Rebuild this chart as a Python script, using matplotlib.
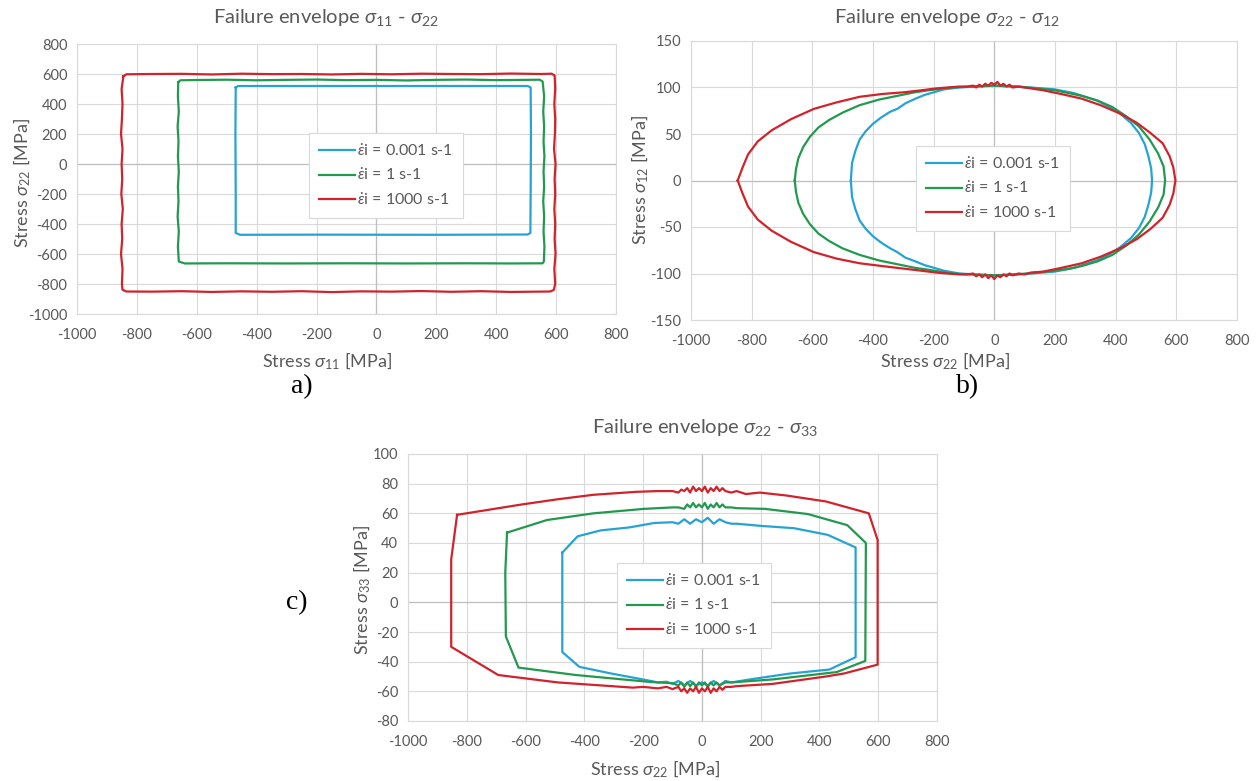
import matplotlib
matplotlib.use("Agg")
import matplotlib.pyplot as plt
import numpy as np

plt.rcParams['font.family'] = ['Lato', 'DejaVu Sans']
plt.rcParams['mathtext.fontset'] = 'custom'
plt.rcParams['mathtext.rm'] = 'Lato'
plt.rcParams['mathtext.it'] = 'Lato:italic'
plt.rcParams['axes.unicode_minus'] = False

rates = ["0.001", "1", "1000"]
labels = [r"$\dot{\varepsilon}$i = " + r + " s-1" for r in rates]
colors = ['#27a3d3', '#23994f', '#d0232b']

# a) sigma11 - sigma22 envelopes (MPa)
a_blue = [(-470, 510), (-462, 520), (-300, 520), (0, 520), (300, 520), (505, 520), (515, 510),
          (516, 200), (515, -200), (514, -460), (505, -470), (200, -472), (-200, -471),
          (-455, -472), (-470, -460), (-470, -200), (-471, 200), (-470, 510)]
a_green = [(-662, 545), (-655, 558), (-600, 560), (-500, 562), (-400, 558), (-300, 561), (-200, 563),
           (-100, 559), (0, 561), (100, 557), (200, 561), (300, 563), (400, 559), (500, 561),
           (545, 562), (555, 550), (560, 450), (557, 350), (560, 250), (558, 150), (561, 50),
           (558, -50), (560, -150), (557, -250), (560, -350), (558, -450), (561, -550),
           (559, -650), (555, -662), (450, -663), (300, -662), (100, -663), (-100, -662),
           (-300, -663), (-500, -662), (-640, -663), (-660, -650), (-663, -550), (-660, -450),
           (-664, -350), (-661, -250), (-663, -150), (-660, -50), (-663, 50), (-661, 150),
           (-664, 250), (-660, 350), (-663, 450), (-662, 545)]
a_red = [(-845, 585), (-835, 598), (-750, 600), (-650, 601), (-550, 597), (-450, 602), (-350, 599),
         (-250, 600), (-150, 597), (-50, 601), (50, 598), (150, 602), (250, 600), (350, 599),
         (450, 603), (550, 600), (585, 602), (595, 590), (597, 500), (594, 400), (597, 300),
         (596, 200), (593, 100), (598, 0), (595, -100), (597, -200), (594, -300), (597, -400),
         (595, -500), (598, -600), (594, -700), (597, -800), (592, -840), (580, -850),
         (450, -853), (350, -848), (250, -852), (150, -847), (50, -851), (-50, -849),
         (-150, -854), (-250, -848), (-350, -852), (-450, -849), (-550, -853), (-650, -848),
         (-750, -851), (-835, -850), (-848, -838), (-850, -800), (-848, -700), (-853, -600),
         (-849, -500), (-851, -400), (-847, -300), (-852, -200), (-849, -100), (-851, 0),
         (-848, 100), (-853, 200), (-850, 300), (-848, 400), (-851, 500), (-845, 585)]

# b) sigma22 - sigma12 envelopes (MPa)
b_blue = [(-473, 0), (-471, 10), (-469, 19), (-458, 32), (-444, 44), (-424, 53), (-400, 61),
          (-372, 68), (-343, 74), (-320, 77), (-293, 83), (-260, 88), (-230, 92), (-198, 95),
          (-166, 98), (-116, 100), (-60, 101), (0, 102), (60, 101), (120, 100), (199, 98),
          (262, 94), (300, 90), (338, 86), (380, 79), (414, 72), (450, 62), (477, 51),
          (496, 39), (508, 26), (517, 13), (520, 0), (517, -13), (508, -26), (496, -39),
          (477, -51), (450, -62), (414, -72), (380, -79), (338, -86), (300, -90), (262, -94),
          (199, -98), (120, -100), (60, -101), (0, -102), (-60, -101), (-116, -100),
          (-166, -97), (-198, -94), (-230, -91), (-260, -87), (-293, -83), (-320, -77),
          (-343, -73), (-372, -67), (-400, -60), (-424, -52), (-444, -43), (-458, -31),
          (-469, -18), (-471, -9), (-473, 0)]
b_green = [(-658, 0), (-654, 12), (-646, 24), (-630, 36), (-608, 47), (-580, 57), (-545, 65),
           (-500, 73), (-444, 81), (-380, 87), (-305, 92), (-260, 95), (-217, 97), (-141, 100),
           (-80, 101), (0, 102), (80, 101), (140, 99), (199, 97), (245, 94), (288, 91),
           (340, 86), (389, 79), (435, 69), (477, 58), (512, 44), (540, 29), (558, 15),
           (563, 0), (558, -15), (540, -29), (512, -44), (477, -58), (435, -70), (389, -80),
           (340, -87), (288, -92), (245, -95), (199, -97), (140, -99), (80, -101), (0, -102),
           (-80, -101), (-141, -100), (-217, -96), (-260, -94), (-305, -91), (-380, -86),
           (-444, -80), (-500, -73), (-545, -65), (-580, -57), (-608, -47), (-630, -36),
           (-646, -24), (-654, -12), (-658, 0)]
b_red = [(-846, 0), (-830, 14), (-812, 28), (-780, 42), (-734, 54), (-670, 66), (-595, 77),
         (-520, 84), (-444, 90), (-370, 93), (-293, 95), (-240, 97), (-192, 99), (-116, 101),
         (-90, 101), (-70, 102), (-60, 100), (-50, 103), (-40, 101), (-30, 104), (-20, 102),
         (-10, 105), (0, 103), (10, 106), (20, 102), (30, 104), (40, 101), (50, 103),
         (60, 100), (80, 101), (100, 100), (120, 99), (161, 97), (220, 93), (288, 88),
         (350, 81), (414, 72), (470, 62), (515, 51), (555, 40), (578, 26), (590, 14),
         (597, 0), (590, -14), (578, -26), (555, -40), (515, -52), (470, -63), (414, -73),
         (350, -82), (288, -89), (220, -94), (161, -98), (120, -99), (100, -101), (80, -100),
         (60, -102), (50, -100), (40, -103), (30, -101), (20, -104), (10, -102), (0, -106),
         (-10, -102), (-20, -105), (-30, -101), (-40, -104), (-50, -101), (-60, -103),
         (-70, -100), (-90, -101), (-116, -101), (-192, -99), (-240, -97), (-293, -95),
         (-370, -92), (-444, -89), (-520, -84), (-595, -77), (-670, -66), (-734, -54),
         (-780, -42), (-812, -28), (-830, -14), (-846, 0)]

# c) sigma22 - sigma33 envelopes (MPa)
c_blue = [(-475, 33.5), (-475, -33.5), (-417, -43.5), (-308, -48), (-174, -53), (-150, -54),
          (-120, -53.5), (-100, -55), (-80, -53), (-60, -56), (-40, -53), (-20, -56), (0, -54),
          (20, -56), (40, -53), (60, -56), (80, -53), (100, -54), (179, -51.5), (300, -48),
          (434, -45.3), (523, -37), (523, 37), (428, 45.5), (313, 50), (203, 51.5), (118, 53),
          (100, 53), (80, 54), (60, 56), (40, 53), (20, 57), (0, 54), (-20, 56), (-40, 53),
          (-60, 56), (-80, 53), (-100, 54), (-162, 53.5), (-247, 50.5), (-344, 48.5),
          (-423, 44.5), (-475, 33.5)]
c_green = [(-663, 47), (-669, 20), (-667, -23), (-624, -44), (-429, -49), (-186, -53.5),
           (-150, -54), (-100, -54.5), (-80, -56), (-70, -54), (-60, -57), (-50, -54),
           (-40, -56.5), (-30, -54), (-20, -57), (-10, -54), (0, -56), (10, -54), (20, -57),
           (30, -54), (40, -56), (50, -54), (60, -56), (80, -54), (100, -54), (240, -52),
           (459, -47), (556, -39.5), (558, 40), (495, 52), (361, 59.5), (215, 63), (118, 63.5),
           (100, 64), (80, 64), (70, 66), (60, 64), (50, 67), (40, 64), (30, 66), (20, 63),
           (10, 67), (0, 64), (-10, 66), (-20, 64), (-30, 67), (-40, 64), (-50, 66), (-60, 63),
           (-80, 64), (-100, 64), (-198, 63), (-369, 60), (-527, 55.5), (-663, 47)]
c_red = [(-833, 59), (-853, 29), (-853, -30), (-693, -49), (-490, -54), (-235, -57.5),
         (-200, -57), (-150, -58), (-120, -57), (-100, -58.5), (-80, -57), (-70, -60),
         (-60, -58), (-50, -61), (-40, -58), (-30, -60), (-20, -57), (-10, -61), (0, -58),
         (10, -60), (20, -57), (30, -61), (40, -58), (50, -60), (60, -57), (70, -59),
         (80, -57), (100, -57), (118, -56.5), (240, -55), (422, -50), (483, -48), (598, -42),
         (598, 42), (568, 60), (422, 68), (288, 72), (197, 74), (150, 73), (118, 75),
         (100, 74), (80, 75), (70, 77), (60, 75), (50, 78), (40, 75), (30, 77), (20, 74),
         (10, 78), (0, 75), (-10, 77), (-20, 75), (-30, 78), (-40, 74), (-50, 77), (-60, 75),
         (-70, 76), (-80, 74), (-100, 75), (-150, 75), (-223, 74.5), (-369, 72.5),
         (-490, 69.5), (-612, 66), (-833, 59)]

W, H = 1260, 781
fig = plt.figure(figsize=(W / 100, H / 100), dpi=100)


def px(x, y):
    return x / W, 1 - y / H


def panel(rect, curves, ylim, yticks, legend_xy):
    l, t, r, b = rect
    ax = fig.add_axes([l / W, 1 - b / H, (r - l) / W, (b - t) / H])
    for pts, c, lab in zip(curves, colors, labels):
        xs, ys = zip(*pts)
        ax.plot(xs, ys, color=c, lw=1.6, label=lab, solid_joinstyle='round', zorder=3)
    ax.set_xlim(-1000, 800)
    ax.set_ylim(*ylim)
    ax.set_xticks(range(-1000, 801, 200))
    ax.set_yticks(yticks)
    ax.grid(True, color='#d9d9d9', lw=0.8)
    ax.axhline(0, color='#bfbfbf', lw=0.9, zorder=1)
    ax.axvline(0, color='#bfbfbf', lw=0.9, zorder=1)
    ax.set_axisbelow(True)
    for s in ax.spines.values():
        s.set_color('#d9d9d9')
        s.set_linewidth(0.8)
    ax.tick_params(length=0, labelsize=10.5, labelcolor='#595959')
    ax.tick_params(axis='x', pad=10)
    ax.tick_params(axis='y', pad=7)
    leg = ax.legend(loc='upper left', bbox_to_anchor=px(*legend_xy), bbox_transform=fig.transFigure,
                    borderaxespad=0, fancybox=False, edgecolor='#d9d9d9', framealpha=1,
                    fontsize=11.5, handlelength=2.3, handletextpad=0.1, labelspacing=0.55,
                    borderpad=0.6)
    leg.get_frame().set_linewidth(0.8)
    for t_ in leg.get_texts():
        t_.set_color('#595959')
    return ax


panel((77, 44, 616, 314), [a_blue, a_green, a_red], (-1000, 800), range(-1000, 801, 200), (309, 133))
panel((691, 41, 1237, 320), [b_blue, b_green, b_red], (-150, 150), range(-150, 151, 50), (916, 146))
panel((408, 454, 937, 721), [c_blue, c_green, c_red], (-80, 100), range(-80, 101, 20), (617, 563))

txt = dict(color='#595959', ha='center', va='center')
fig.text(*px(326, 18), r"Failure envelope $\sigma_{11}$ - $\sigma_{22}$", fontsize=14.5, **txt)
fig.text(*px(947, 18), r"Failure envelope $\sigma_{22}$ - $\sigma_{12}$", fontsize=14.5, **txt)
fig.text(*px(705, 427), r"Failure envelope $\sigma_{22}$ - $\sigma_{33}$", fontsize=14.5, **txt)

fig.text(*px(327, 361), r"Stress $\sigma_{11}$ [MPa]", fontsize=13, **txt)
fig.text(*px(945, 361), r"Stress $\sigma_{22}$ [MPa]", fontsize=13, **txt)
fig.text(*px(655, 769), r"Stress $\sigma_{22}$ [MPa]", fontsize=13, **txt)

fig.text(*px(22, 183), r"Stress $\sigma_{22}$ [MPa]", fontsize=13, rotation=90, **txt)
fig.text(*px(640, 180), r"Stress $\sigma_{12}$ [MPa]", fontsize=13, rotation=90, **txt)
fig.text(*px(362, 590), r"Stress $\sigma_{33}$ [MPa]", fontsize=13, rotation=90, **txt)

serif = dict(family='Liberation Serif', fontsize=20, color='black', ha='center', va='center')
fig.text(*px(302, 387), "a)", **serif)
fig.text(*px(968, 387), "b)", **serif)
fig.text(*px(297, 603), "c)", **serif)

fig.savefig("out.png", dpi=100)
